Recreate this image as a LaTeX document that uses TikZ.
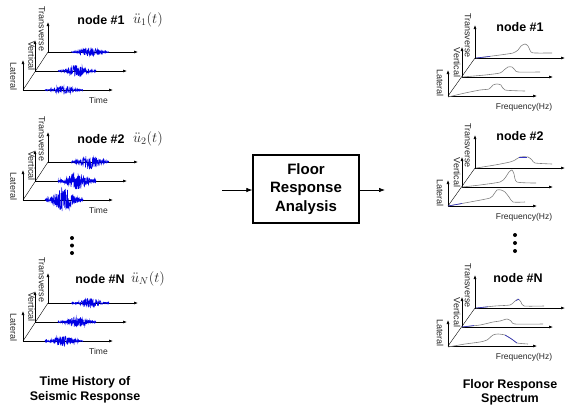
\documentclass[tikz,border=0pt]{standalone}
\usepackage{fontspec}
\setmainfont{Liberation Sans}
\usetikzlibrary{arrows.meta}

\newcommand\tgroup[6]{% #1 name, #2 y of lateral origin, #3-#5 amplitudes, #6 seed
\begin{scope}[shift={(23,#2)}]
 \coordinate (#1-lo) at (0,0);
 \coordinate (#1-vo) at (12,-19);
 \coordinate (#1-to) at (25,-38);
 \draw[diag] (#1-lo) -- (#1-to);
 \draw[ax] (#1-lo) -- ++(0,-30);
 \draw[ax] (#1-lo) -- ++(90,0);
 \draw[ax] (#1-vo) -- ++(0,-31);
 \draw[ax] (#1-vo) -- ++(92,0);
 \draw[ax] (#1-to) -- ++(0,-30);
 \draw[ax] (#1-to) -- ++(90,0);
 \pgfmathsetseed{#6}
 \draw[wave] plot[domain=-19:19,samples=170] ({67+\x},{-38+#3*(0.12+exp(-((\x)*(\x))/90))*rand});
 \draw[wave] plot[domain=-19:19,samples=170] ({54+\x},{-19+#4*(0.12+exp(-((\x)*(\x))/90))*rand});
 \draw[wave] plot[domain=-19:19,samples=170] ({41+\x},{#5*(0.12+exp(-((\x)*(\x))/90))*rand});
 \node[axlab] (#1-tl) at (19,-61) {Transverse};
 \node[axlab] (#1-vl) at (8.5,-34) {Vertical};
 \node[axlab] (#1-ll) at (-9.5,-13.5) {Lateral};
 \node[xlab] (#1-x) at (75.5,10) {Time};
\end{scope}}

\newcommand\fgroup[2]{% #1 name, #2 y of lateral origin
\begin{scope}[shift={(448,#2)}]
 \coordinate (#1-lo) at (0,0);
 \coordinate (#1-vo) at (14,-19);
 \coordinate (#1-to) at (27,-38);
 \draw[diag] (#1-lo) -- (#1-to);
 \draw[ax] (#1-lo) -- ++(0,-26);
 \draw[ax] (#1-lo) -- ++(89,0);
 \draw[ax] (#1-vo) -- ++(0,-30);
 \draw[ax] (#1-vo) -- ++(91,0);
 \draw[ax] (#1-to) -- ++(0,-33);
 \draw[ax] (#1-to) -- ++(90,0);
 \node[axlab] (#1-tl) at (20,-60.5) {Transverse};
 \node[axlab] (#1-vl) at (9,-33.5) {Vertical};
 \node[axlab] (#1-ll) at (-8,-13) {Lateral};
 \node[xlab] (#1-x) at (76,11) {Frequency(Hz)};
\end{scope}}

\begin{document}
\begin{tikzpicture}[x=1pt,y=-1pt,
  ax/.style={line width=0.6pt,-{Latex[length=4pt,width=3pt]}},
  diag/.style={line width=0.4pt},
  axlab/.style={font=\fontsize{9}{9}\selectfont, text=black!85, inner sep=0pt, rotate=-90},
  xlab/.style={font=\fontsize{8.5}{9}\selectfont, text=black!85, inner sep=0pt},
  nodelab/.style={font=\fontsize{12.5}{13}\selectfont\bfseries, inner sep=0pt},
  mathlab/.style={font=\fontsize{14}{14}\selectfont, inner sep=0pt, text=black!85},
  wave/.style={blue!90!black, line width=0.55pt},
  spec/.style={black!50, line width=0.6pt, smooth, tension=0.4},
  specb/.style={blue!70!black!80, line width=0.6pt},
  title/.style={font=\fontsize{12.5}{15.5}\selectfont\bfseries, align=center, inner sep=0pt},
  boxst/.style={draw, line width=1.3pt, minimum width=106pt, minimum height=68pt, inner sep=0pt,
     align=center, font=\fontsize{15}{18.5}\selectfont\bfseries},
  arr/.style={line width=0.7pt, -{Latex[length=6pt,width=4.5pt]}}
]
\useasboundingbox (0,0) rectangle (585,408);

% ---------- left: time histories ----------
\tgroup{A1}{90}{4}{5.5}{4}{11}
\tgroup{A2}{200}{6.5}{8}{11}{23}
\tgroup{AN}{341}{4.5}{5}{5}{37}

\node[nodelab] (a1n) at (101,20) {node \#1};
\node[mathlab] (a1m) at (148,20) {$\ddot{u}_1(t)$};
\node[nodelab] (a2n) at (101,139) {node \#2};
\node[mathlab] (a2m) at (148,139) {$\ddot{u}_2(t)$};
\node[nodelab] (aNn) at (100,279) {node \#N};
\node[mathlab] (aNm) at (148,279) {$\ddot{u}_N(t)$};

\fill (72,238) circle (2pt) (72,245.5) circle (2pt) (72,253) circle (2pt);

\node[title] (lt) at (85,390) {Time History of\\Seismic Response};

% ---------- middle ----------
\node[boxst] (box) at (306,189) {Floor\\Response\\Analysis};
\coordinate (inA) at (222,190);
\coordinate (outA) at (385,190);
\draw[arr] (inA) -- (box.west |- inA);
\draw[arr] (box.east |- outA) -- (outA);

% ---------- right: spectra ----------
\fgroup{B1}{96}
\fgroup{B2}{206}
\fgroup{BN}{346}

\node[nodelab] (b1n) at (520,27) {node \#1};
\node[nodelab] (b2n) at (520,136) {node \#2};
\node[nodelab] (bNn) at (518,278) {node \#N};

\fill (515,235) circle (2pt) (515,243) circle (2pt) (515,251) circle (2pt);

% spectra group 1
\draw[spec] plot coordinates {(476,58) (500,55) (513,53) (518,50) (521,46) (525,44) (528,46) (531,52) (535,53) (552,53)};
\draw[spec] plot coordinates {(462,77) (485,75) (500,73) (504,70) (508,67) (512,67) (515,70) (518,72) (540,72)};
\draw[spec] plot coordinates {(448,97) (465,93) (480,90) (489,89) (493,85) (497,84) (501,85) (505,90) (525,91)};
\draw[specb] (476,58) -- (490,56.5);
% spectra group 2
\draw[spec] plot coordinates {(476,168) (495,165) (510,162) (515,160) (520,157) (528,157) (532,160) (535,163) (552,164)};
\draw[spec] plot coordinates {(462,187) (480,185) (500,182) (505,178) (509,172) (512,170) (514,174) (517,182) (536,183)};
\draw[spec] plot coordinates {(448,206) (470,202) (490,198) (494,194) (497,190) (501,190) (505,192) (509,197) (513,202) (525,202)};
\draw[specb] (519,157) -- (527,157);
\draw[specb] (448,206) -- (462,203.5);
% spectra group N
\draw[spec] plot coordinates {(476,308) (495,306) (510,305) (514,302) (518,299) (521,302) (524,306) (544,306)};
\draw[spec] plot coordinates {(462,327) (480,325) (493,322) (500,321) (507,319) (511,321) (515,324) (543,324)};
\draw[spec] plot coordinates {(448,347) (465,344) (480,342) (487,340) (493,335) (498,334) (505,335) (510,338) (513,340) (517,343) (528,344)};
\draw[specb] (462,327) -- (474,325.5);
\draw[specb] (505,335) -- (510,338) -- (513,340) -- (517,343);
\draw[specb] (476,308) -- (488,306.8);
\draw[specb] (516,300.5) -- (519,299.2);

\node[title, font=\fontsize{12.5}{14.5}\selectfont\bfseries] (rt) at (510,392.5) {Floor Response\\Spectrum};
\end{tikzpicture}
\end{document}
